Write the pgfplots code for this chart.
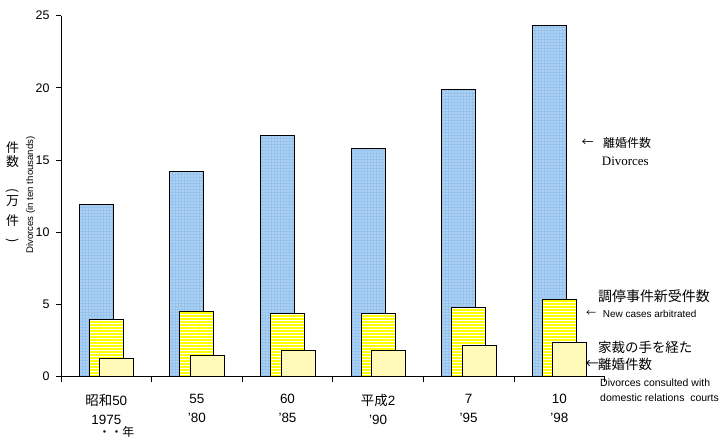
\documentclass[border=0pt]{standalone}
\usepackage{fontspec}
\setmainfont{Liberation Sans}
\newfontfamily\jp{Noto Sans CJK JP}
\newfontfamily\serif{Liberation Serif}
\usepackage{pgfplots}
\pgfplotsset{compat=1.18}
\usetikzlibrary{patterns}
\definecolor{barblue}{RGB}{150,194,238}
\definecolor{bary}{RGB}{255,255,0}
\definecolor{cream}{RGB}{255,255,208}
\definecolor{creamline}{RGB}{255,242,140}
\pgfdeclarepatternformonly{finedots}{\pgfqpoint{-1pt}{-1pt}}{\pgfqpoint{1pt}{1pt}}{\pgfqpoint{3bp}{3bp}}{\pgfpathcircle{\pgfqpoint{0pt}{0pt}}{0.55pt}\pgfusepath{fill}}
\pgfdeclarepatternformonly{nelines}{\pgfqpoint{-1pt}{-1pt}}{\pgfqpoint{4bp}{4bp}}{\pgfqpoint{3bp}{3bp}}{\pgfsetlinewidth{0.7pt}\pgfpathmoveto{\pgfqpoint{0pt}{0pt}}\pgfpathlineto{\pgfqpoint{3.1bp}{3.1bp}}\pgfusepath{stroke}}
\begin{document}
\begin{tikzpicture}
\path[use as bounding box] (0,0) rectangle (724bp,443bp);
\begin{axis}[
  scale only axis, width=543.6bp, height=360.8bp,
  at={(61bp,66.5bp)}, anchor=south west,
  xmin=0, xmax=6, ymin=0, ymax=25,
  axis x line=bottom, axis y line=left,
  axis line style={-, line width=1pt, black},
  tick align=outside,
  ytick={0,5,...,25},
  xtick={0,1,...,6},
  x tick label as interval,
  xticklabels={{{\jp 昭和}50\\1975},{55\\’80},{60\\’85},{{\jp 平成}2\\’90},{7\\’95},{10\\’98}},
  xticklabel style={align=center, font=\fontsize{13.5}{19}\selectfont, yshift=-9bp},
  yticklabel style={font=\fontsize{12.5}{12.5}\selectfont, xshift=-3bp},
  /pgf/number format/assume math mode=true,
  major tick length=5bp,
  tick style={black, line width=0.8pt},
]
\addplot[ybar, bar shift=0pt, bar width=0.375, draw=black, line width=1pt,
  preaction={fill=barblue}, pattern=finedots, pattern color=white]
  coordinates {(0.39,11.9) (1.39,14.2) (2.39,16.7) (3.39,15.8) (4.39,19.9) (5.39,24.3)};
\addplot[ybar, bar shift=0pt, bar width=0.375, draw=black, line width=1pt,
  preaction={fill=bary}, pattern=horizontal lines, pattern color=white]
  coordinates {(0.5,3.96) (1.5,4.52) (2.5,4.38) (3.5,4.38) (4.5,4.8) (5.5,5.35)};
\addplot[ybar, bar shift=0pt, bar width=0.375, draw=black, line width=1pt,
  preaction={fill=cream}, pattern=nelines, pattern color=creamline]
  coordinates {(0.616,1.26) (1.616,1.47) (2.616,1.77) (3.616,1.77) (4.616,2.16) (5.616,2.37)};
\end{axis}
% x label third line
\node[font=\jp\fontsize{12}{12}\selectfont] at (116.5bp,11bp) {・・年};
% y axis label
\begin{scope}[every node/.style={font=\jp\fontsize{13}{13}\selectfont, inner sep=0pt}]
\node at (12.5bp,295.5bp) {件};
\node at (12.5bp,281bp) {数};
\node[rotate=-90] at (12.5bp,252bp) {(};
\node at (12.5bp,242bp) {万};
\node at (12.5bp,222bp) {件};
\node[rotate=-90] at (12.5bp,202bp) {)};
\end{scope}
\node[rotate=90, font=\fontsize{9.7}{9.7}\selectfont, inner sep=0pt] at (30.5bp,248bp) {Divorces (in ten thousands)};
% annotations
\node[font=\jp\fontsize{12}{12}\selectfont, inner sep=0pt] at (587.5bp,300bp) {←};
\node[anchor=west, font=\jp\fontsize{12}{12}\selectfont, inner sep=0pt] at (603bp,300bp) {離婚件数};
\node[anchor=west, font=\serif\fontsize{13}{13}\selectfont, inner sep=0pt] at (601.7bp,282bp) {Divorces};
\node[anchor=west, font=\jp\fontsize{14}{14}\selectfont, inner sep=0pt] at (598bp,146.5bp) {調停事件新受件数};
\node[font=\jp\fontsize{10}{10}\selectfont, inner sep=0pt] at (591bp,129.5bp) {←};
\node[anchor=west, font=\fontsize{10}{10}\selectfont, inner sep=0pt] at (602.7bp,129.5bp) {New cases arbitrated};
\node[anchor=west, font=\jp\fontsize{13.5}{13.5}\selectfont, inner sep=0pt] at (598bp,95.5bp) {家裁の手を経た};
\node[anchor=west, font=\jp\fontsize{13.5}{13.5}\selectfont, inner sep=0pt] at (598bp,79bp) {離婚件数};
\node[anchor=east, font=\jp\fontsize{13.5}{13.5}\selectfont, inner sep=0pt] at (599bp,79bp) {←};
\node[anchor=west, font=\fontsize{10.5}{10.5}\selectfont, inner sep=0pt] at (600bp,60bp) {Divorces consulted with};
\node[anchor=west, font=\fontsize{10.5}{10.5}\selectfont, inner sep=0pt] at (600bp,45.5bp) {domestic relations\ \ courts};
\end{tikzpicture}
\end{document}
